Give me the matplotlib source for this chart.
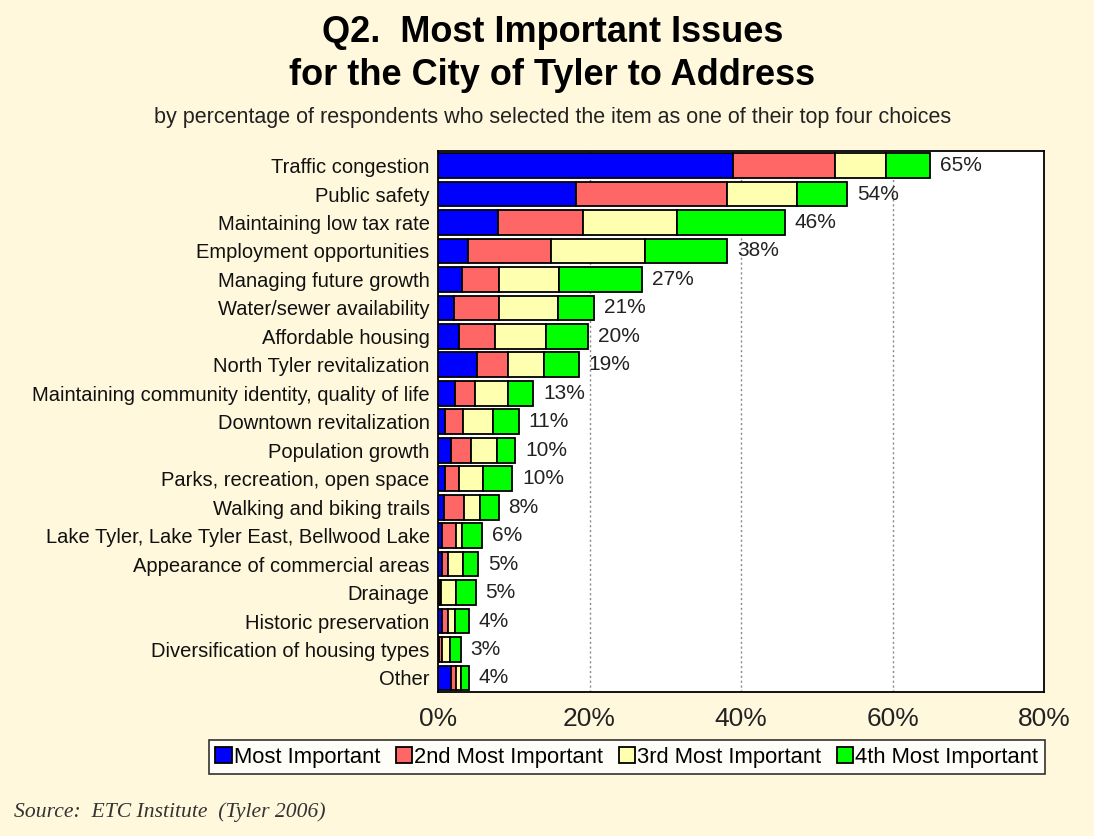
import numpy as np
import matplotlib.pyplot as plt

plt.rcParams['font.family'] = ['Liberation Sans', 'DejaVu Sans']

issues = [
    "Traffic congestion",
    "Public safety",
    "Maintaining low tax rate",
    "Employment opportunities",
    "Managing future growth",
    "Water/sewer availability",
    "Affordable housing",
    "North Tyler revitalization",
    "Maintaining community identity, quality of life",
    "Downtown revitalization",
    "Population growth",
    "Parks, recreation, open space",
    "Walking and biking trails",
    "Lake Tyler, Lake Tyler East, Bellwood Lake",
    "Appearance of commercial areas",
    "Drainage",
    "Historic preservation",
    "Diversification of housing types",
    "Other",
]

# percent of respondents per rank
most = [38.9, 18.2, 7.9, 3.9, 3.2, 2.1, 2.8, 5.1, 2.3, 0.9, 1.7, 0.9, 0.8, 0.5, 0.5, 0.1, 0.5, 0.1, 1.7]
second = [13.5, 19.9, 11.3, 11.0, 4.9, 6.0, 4.7, 4.2, 2.6, 2.4, 2.6, 1.9, 2.6, 1.9, 0.8, 0.3, 0.8, 0.4, 0.7]
third = [6.7, 9.3, 12.3, 12.4, 7.9, 7.8, 6.7, 4.7, 4.3, 3.9, 3.5, 3.2, 2.1, 0.7, 2.0, 2.0, 1.0, 1.1, 0.6]
fourth = [5.9, 6.6, 14.3, 10.9, 10.9, 4.7, 5.6, 4.6, 3.4, 3.5, 2.4, 3.8, 2.5, 2.7, 2.0, 2.6, 1.8, 1.4, 1.1]

series = [
    ("Most Important", most, "#0000FF"),
    ("2nd Most Important", second, "#FF6666"),
    ("3rd Most Important", third, "#FFFFB0"),
    ("4th Most Important", fourth, "#00FF00"),
]

bg = "#FFF8DC"
fig = plt.figure(figsize=(10.94, 8.36), dpi=100, facecolor=bg)
ax = fig.add_axes([0.4004, 0.172, 0.554, 0.647])
ax.set_facecolor("white")

y = np.arange(len(issues))
left = np.zeros(len(issues))
for name, vals, col in series:
    vals = np.array(vals)
    ax.barh(y, vals, left=left, height=0.87, color=col, edgecolor="black",
            linewidth=1.3, label=name, zorder=3)
    left += vals

for yi, tot in zip(y, left):
    ax.annotate(f"{round(tot)}%", (tot, yi), xytext=(7, 0), textcoords="offset points",
                va="center", ha="left", fontsize=15, color="#222222", zorder=4)

ax.set_xlim(0, 80)
ax.set_ylim(len(issues) - 0.5, -0.5)
ax.set_xticks([0, 20, 40, 60, 80])
ax.set_xticklabels(["0%", "20%", "40%", "60%", "80%"], fontsize=19, color="#222222")
ax.set_yticks(y)
ax.set_yticklabels(issues, fontsize=14.5, color="#111111")
ax.tick_params(axis="both", length=0)
ax.tick_params(axis="x", pad=11)
ax.tick_params(axis="y", pad=6)
for x in [20, 40, 60]:
    ax.axvline(x, color="#888888", linestyle=(0, (1.5, 2)), linewidth=1, zorder=1)
for s in ax.spines.values():
    s.set_linewidth(1.3)
    s.set_color("black")

fig.text(0.505, 0.961, "Q2.  Most Important Issues", ha="center", va="center",
         fontsize=26, fontweight="bold")
fig.text(0.505, 0.910, "for the City of Tyler to Address", ha="center", va="center",
         fontsize=26, fontweight="bold")
fig.text(0.505, 0.860, "by percentage of respondents who selected the item as one of their top four choices",
         ha="center", va="center", fontsize=15.5, color="#222222")

leg = fig.legend(loc="center", bbox_to_anchor=(0.573, 0.094), ncol=4, fontsize=15.8,
                 frameon=True, fancybox=False, edgecolor="black", handlelength=0.75,
                 handleheight=0.75, handletextpad=0.1, columnspacing=0.7,
                 borderpad=0.3)
leg.get_frame().set_linewidth(1.2)
leg.get_frame().set_facecolor("white")

fig.text(0.013, 0.028, "Source:  ETC Institute  (Tyler 2006)", ha="left", va="center",
         fontsize=15.6, style="italic", family="Liberation Serif", color="#333333")

fig.savefig("out.png", dpi=100, facecolor=bg)
